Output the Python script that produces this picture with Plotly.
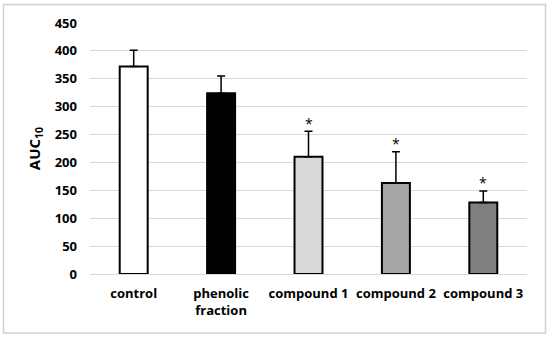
import plotly.graph_objects as go

categories = ["control", "phenolic<br>fraction", "compound 1", "compound 2", "compound 3"]
values = [372, 324, 210, 163, 128]
errors = [29, 31, 46, 56, 21]
significant = [False, False, True, True, True]
colors = ["#ffffff", "#000000", "#d9d9d9", "#a6a6a6", "#7f7f7f"]
y_ticks = [0, 50, 100, 150, 200, 250, 300, 350, 400, 450]

FONT = "Open Sans"

fig = go.Figure()
fig.add_trace(go.Bar(
    x=categories, y=values,
    marker=dict(color=colors, line=dict(color="#000000", width=2)),
    error_y=dict(type="data", array=errors, arrayminus=[0]*len(errors),
                 symmetric=False, color="#000000", thickness=1.5, width=4),
    width=0.32, hoverinfo="skip",
))

for c, v, e, s in zip(categories, values, errors, significant):
    if s:
        fig.add_annotation(x=c, y=v + e, text="*", showarrow=False,
                           yanchor="middle", yshift=8,
                           font=dict(family=FONT, size=14, color="#000000"))

fig.add_shape(type="rect", xref="paper", yref="paper",
              x0=-0.198, x1=1.0423, y0=-0.235, y1=1.0737,
              line=dict(color="#d0d0d0", width=1.5), layer="below")

fig.update_layout(
    width=550, height=337,
    margin=dict(l=90, r=23, t=23, b=63),
    paper_bgcolor="#ffffff", plot_bgcolor="#ffffff",
    showlegend=False,
    font=dict(family=FONT, size=13, color="#000000"),
    xaxis=dict(showgrid=False, showline=True, linecolor="#d9d9d9", linewidth=1,
               tickfont=dict(family=FONT, size=13, color="#000000", weight="bold"),
               ticks="", ticklabelstandoff=7),
    yaxis=dict(range=[0, 450], tickvals=y_ticks, showgrid=True,
               gridcolor="#d9d9d9", gridwidth=1, zeroline=False, showline=False,
               tickfont=dict(family=FONT, size=13, color="#000000", weight="bold"),
               ticks="", ticklabelstandoff=12,
               title=dict(text="AUC<sub>10</sub>", standoff=10,
                          font=dict(family=FONT, size=15, color="#000000", weight="bold"))),
)

fig.write_html("out.html", config={"displayModeBar": False},
               post_script="document.body.style.margin='0';document.body.style.overflow='hidden';")
